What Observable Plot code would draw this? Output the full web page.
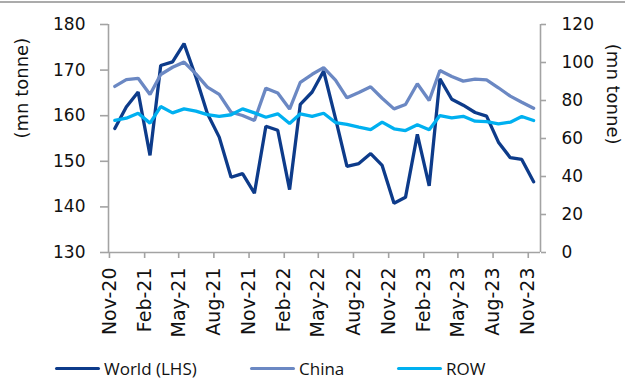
<!DOCTYPE html>
<html>
<head>
<meta charset="utf-8">
<script src="https://cdn.jsdelivr.net/npm/d3@7"></script>
<script src="https://cdn.jsdelivr.net/npm/@observablehq/plot@0.6"></script>
<style>
  html, body { margin: 0; padding: 0; background: #fff; }
  body { width: 625px; height: 381px; overflow: hidden; position: relative; font-family: "DejaVu Sans", sans-serif; }
  #topRule { position: absolute; left: 0; top: 1px; width: 625px; height: 2px; background: #ababab; }
  #chart { position: absolute; left: 0; top: 0; }
  #legend { position: absolute; left: 0; top: 356px; width: 625px; height: 25px; font-family: "Open Sans", sans-serif; font-size: 17px; color: #111; }
  .item { position: absolute; top: 0; height: 25px; display: flex; align-items: center; white-space: nowrap; }
  .swatch { width: 45px; height: 3.5px; border-radius: 2px; margin-right: 4px; }
</style>
</head>
<body>
<div id="topRule"></div>
<div id="chart"></div>
<div id="legend"></div>
<script>
// Monthly steel output, Nov-2020 to Nov-2023 (mn tonne)
const startYear = 2020, startMonth = 10; // November (0-based)
const world = [157.2, 161.9, 165.2, 151.3, 171.0, 171.8, 175.8, 168.5, 160.5, 155.3, 146.5, 147.3, 143.0,
               157.7, 156.8, 143.8, 162.5, 165.2, 169.8, 159.4, 148.9, 149.5, 151.7, 149.1, 140.8,
               142.1, 155.9, 144.6, 168.1, 163.6, 162.3, 160.7, 159.9, 154.2, 150.8, 150.4, 145.5];
const china = [87.4, 91.0, 91.7, 83.2, 93.7, 97.5, 100.2, 94.0, 87.0, 83.2, 73.8, 72.1, 69.5,
               86.5, 83.9, 75.5, 89.6, 93.8, 97.3, 90.7, 81.4, 84.2, 87.2, 81.2, 75.6,
               77.9, 88.8, 80.0, 95.8, 92.6, 90.2, 91.2, 90.9, 86.7, 82.3, 79.1, 75.9];
const rowSeries = [69.5, 70.7, 73.3, 68.1, 76.8, 73.5, 75.6, 74.4, 72.6, 71.6, 72.5, 75.6, 73.5,
                   71.2, 73.0, 67.9, 73.0, 71.6, 73.3, 68.4, 67.4, 66.0, 64.7, 68.6, 65.1,
                   64.2, 67.2, 64.6, 72.1, 70.9, 71.7, 69.1, 68.9, 67.7, 68.6, 71.6, 69.5];
const tickLabels = ["Nov-20", "Feb-21", "May-21", "Aug-21", "Nov-21", "Feb-22", "May-22",
                    "Aug-22", "Nov-22", "Feb-23", "May-23", "Aug-23", "Nov-23"];
const leftTicks = [130, 140, 150, 160, 170, 180];
const rightTicks = [0, 20, 40, 60, 80, 100, 120];
const seriesNames = ["World (LHS)", "China", "ROW"];
const colors = ["#0d3b8a", "#6b88c3", "#00b0f0"];

// Right-hand axis (0–120) mapped onto the left-hand scale (130–180)
const leftMin = 130, leftMax = 180, rightMin = 0, rightMax = 120;
const toLeft = v => leftMin + (v - rightMin) * (leftMax - leftMin) / (rightMax - rightMin);
const toRight = v => rightMin + (v - leftMin) * (rightMax - rightMin) / (leftMax - leftMin);

const dates = world.map((_, i) => new Date(Date.UTC(startYear, startMonth + i, 15)));
const table = dates.map((date, i) => ({date, world: world[i], china: toLeft(china[i]), row: toLeft(rowSeries[i])}));
const tickDates = tickLabels.map((_, k) => new Date(Date.UTC(startYear, startMonth + 3 * k, 1)));
const xDomain = [new Date(Date.UTC(2020, 9, 29, 12)), new Date(Date.UTC(2023, 11, 3))];

const axisGray = "#a3a3a3";
const textColor = "#111";

const chart = Plot.plot({
  width: 625,
  height: 355,
  marginLeft: 108,
  marginRight: 85,
  marginTop: 24,
  marginBottom: 103,
  style: {fontFamily: "DejaVu Sans, sans-serif", background: "transparent", overflow: "visible"},
  x: {type: "utc", domain: xDomain},
  y: {domain: [leftMin, leftMax]},
  marks: [
    Plot.ruleX([xDomain[0], xDomain[1]], {stroke: axisGray, strokeWidth: 1.6}),
    Plot.ruleY([leftMin], {stroke: axisGray, strokeWidth: 1.6}),
    Plot.axisY({anchor: "left", ticks: leftTicks, tickSize: 8, tickPadding: 15, fontSize: 17,
                stroke: axisGray, strokeWidth: 1.6, fill: textColor, label: null}),
    Plot.axisY({anchor: "right", ticks: rightTicks.map(toLeft), tickFormat: d => Math.round(toRight(d)),
                tickSize: 5, tickPadding: 16, fontSize: 17,
                stroke: axisGray, strokeWidth: 1.6, fill: textColor, label: null}),
    Plot.axisX({ticks: tickDates, tickFormat: d => tickLabels[tickDates.findIndex(t => +t === +d)],
                tickRotate: -90, tickSize: 6, tickPadding: 9, fontSize: 19,
                stroke: axisGray, strokeWidth: 1.6, fill: textColor, label: null}),
    Plot.text(["(mn tonne)"], {frameAnchor: "left", dx: -86, rotate: -90, fontSize: 18, fill: textColor}),
    Plot.text(["(mn tonne)"], {frameAnchor: "right", dx: 72, dy: 6, rotate: 90, fontSize: 18, fill: textColor}),
    Plot.lineY(table, {x: "date", y: "world", stroke: colors[0], strokeWidth: 3.3, strokeLinejoin: "miter"}),
    Plot.lineY(table, {x: "date", y: "china", stroke: colors[1], strokeWidth: 3.3, strokeLinejoin: "miter"}),
    Plot.lineY(table, {x: "date", y: "row", stroke: colors[2], strokeWidth: 3.3, strokeLinejoin: "miter"})
  ]
});
document.getElementById("chart").appendChild(chart);

// Legend below the chart
const legendX = [55, 250, 397];
const legend = document.getElementById("legend");
seriesNames.forEach((name, i) => {
  const item = document.createElement("div");
  item.className = "item";
  item.style.left = legendX[i] + "px";
  const sw = document.createElement("div");
  sw.className = "swatch";
  sw.style.background = colors[i];
  const label = document.createElement("span");
  label.textContent = name;
  item.appendChild(sw);
  item.appendChild(label);
  legend.appendChild(item);
});
</script>
</body>
</html>
